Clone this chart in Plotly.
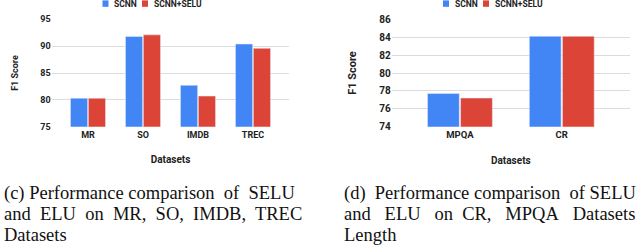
import plotly.graph_objects as go

# ---- data ----
cats_left = ["MR", "SO", "IMDB", "TREC"]
scnn_left = [80.3, 91.8, 82.7, 90.4]
selu_left = [80.3, 92.1, 80.7, 89.6]

cats_right = ["MPQA", "CR"]
scnn_right = [77.7, 84.1]
selu_right = [77.2, 84.1]

series_names = ["SCNN", "SCNN+SELU"]
colors = ["#4285F4", "#DB4437"]

NB = "\u00a0"
caption_left = ["(c) Performance comparison" + NB + " of" + NB + " SELU",
                "and" + NB + " ELU" + NB + " on" + NB + " MR," + NB + " SO," + NB + " IMDB," + NB + " TREC",
                "Datasets"]
caption_right = ["(d)" + NB + " Performance comparison" + NB + " of SELU",
                 "and" + NB * 2 + " ELU" + NB * 2 + " on" + NB + " CR," + NB * 2 + " MPQA" + NB * 2 + " Datasets",
                 "Length"]

W, H = 640, 245
def px(x):
    return x / W
def py(y):
    return 1 - y / H

fig = go.Figure()
fig.add_trace(go.Bar(x=cats_left, y=scnn_left, name=series_names[0], marker_color=colors[0],
                     xaxis="x", yaxis="y", showlegend=False))
fig.add_trace(go.Bar(x=cats_left, y=selu_left, name=series_names[1], marker_color=colors[1],
                     xaxis="x", yaxis="y", showlegend=False))
fig.add_trace(go.Bar(x=cats_right, y=scnn_right, name=series_names[0], marker_color=colors[0],
                     xaxis="x2", yaxis="y2", showlegend=False))
fig.add_trace(go.Bar(x=cats_right, y=selu_right, name=series_names[1], marker_color=colors[1],
                     xaxis="x2", yaxis="y2", showlegend=False))

INK = "#222222"
def f(size):
    return dict(family="Roboto", size=size, color=INK, weight="bold")

ydom = [py(126.7), py(19.3)]
grid = dict(showgrid=True, gridcolor="#dcdcdc", gridwidth=1, zeroline=False,
            ticks="", showline=False, fixedrange=True)
xcommon = dict(showgrid=False, zeroline=False, ticks="", showline=False, ticklabelstandoff=1)

fig.update_layout(
    width=W, height=H, margin=dict(l=0, r=0, t=0, b=0, autoexpand=False),
    paper_bgcolor="white", plot_bgcolor="white",
    barmode="group", bargap=0.35, bargroupgap=0.04,
    showlegend=False,
    xaxis=dict(domain=[px(51.7), px(289.3)], range=[-0.66, 3.66], anchor="y",
               tickfont=f(9), title=dict(text="Datasets", font=f(10), standoff=17), **xcommon),
    yaxis=dict(domain=ydom, range=[75, 95], dtick=5, anchor="x", tickfont=f(9),
               title=dict(text="F1 Score", font=f(9), standoff=20), **grid),
    xaxis2=dict(domain=[px(391.7), px(630)], range=[-0.67, 1.67], anchor="y2",
                tickfont=f(9.5), title=dict(text="Datasets", font=f(10), standoff=17), **xcommon),
    yaxis2=dict(domain=ydom, range=[74, 86], dtick=2, anchor="x2", tickfont=f(10),
                title=dict(text="F1 Score", font=f(11), standoff=20), **grid),
)

# legends drawn as swatches + labels
def legend(x0, y0, items, size):
    x = x0
    for name, col, width in items:
        fig.add_shape(type="rect", xref="paper", yref="paper",
                      x0=px(x), x1=px(x + 6), y0=py(y0 + 3.2), y1=py(y0 - 3.2),
                      fillcolor=col, line_width=0)
        fig.add_annotation(xref="paper", yref="paper", x=px(x + 9.5), y=py(y0), text=name,
                           showarrow=False, xanchor="left", yanchor="middle",
                           font=f(size))
        x += width

legend(102.5, 3.6, [(series_names[0], colors[0], 39.5), (series_names[1], colors[1], 60)], 8.5)
legend(443, 3.6, [(series_names[0], colors[0], 40), (series_names[1], colors[1], 60)], 8.5)

capfont = dict(family="Liberation Serif", size=18.5, color="#111111")
ys = [193, 214, 235]
for i, line in enumerate(caption_left):
    fig.add_annotation(xref="paper", yref="paper", x=px(1.5), y=py(ys[i]), text=line,
                       showarrow=False, xanchor="left", yanchor="middle", font=capfont)
for i, line in enumerate(caption_right):
    fig.add_annotation(xref="paper", yref="paper", x=px(341.5), y=py(ys[i]), text=line,
                       showarrow=False, xanchor="left", yanchor="middle", font=capfont)

fig.write_html("out.html", config={"displayModeBar": False},
               post_script="document.body.style.margin='0';document.body.style.overflow='hidden';")
